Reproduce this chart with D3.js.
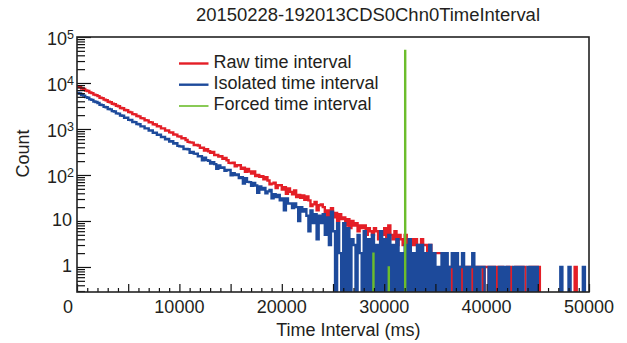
<!DOCTYPE html>
<html>
<head>
<meta charset="utf-8">
<script src="https://cdn.jsdelivr.net/npm/d3@7"></script>
<style>
  body { margin: 0; background: #fff; }
  svg { display: block; }
  text { font-family: "Liberation Sans", Arial, Helvetica, sans-serif; fill: #231f20; }
</style>
</head>
<body>
<svg id="chart" width="627" height="343"></svg>
<script>
// Histogram bin width (ms) shared by the raw and isolated series
const binWidth = 200;

// Raw time interval counts, one value per 200 ms bin (0 .. 50000 ms)
const rawCounts = [
  8420, 8150, 7610, 7390, 6880, 6690, 6210, 6020, 5590, 5440,
  5170, 4790, 4680, 4340, 4230, 3910, 3820, 3530, 3450, 3190,
  3120, 2870, 2820, 2590, 2550, 2340, 2300, 2110, 2080, 1910,
  1880, 1720, 1700, 1550, 1540, 1400, 1390, 1270, 1250, 1150,
  1140, 1030, 1030, 930, 925, 845, 840, 760, 755, 690,
  689, 630, 631, 577, 524, 511, 505, 446, 449, 438,
  388, 393, 340, 364, 328, 303, 317, 270, 274, 252,
  255, 226, 236, 209, 183, 182, 186, 154, 164, 163,
  137, 144, 118, 136, 119, 108, 119, 95, 100, 91,
  94, 81, 89, 76, 63, 65, 68, 52, 60, 60,
  48, 54, 39, 51, 43, 38, 46, 33, 37, 32,
  36, 29, 34, 28, 21, 23, 26, 17, 22, 23,
  20, 13, 17, 11, 19, 12, 15, 10, 14, 11,
  12, 8, 11, 7, 10, 8, 9, 6, 8, 7,
  8, 5, 7, 6, 5, 7, 6, 4, 6, 5,
  7, 4, 8, 5, 4, 6, 3, 5, 4, 3,
  5, 3, 4, 4, 3, 4, 3, 3, 4, 3,
  3, 2, 3, 2, 2, 2, 2, 2, 2, 1,
  1, 1, 1, 0, 1, 0, 1, 0, 1, 1,
  0, 1, 1, 0, 1, 0, 1, 1, 0, 1,
  1, 0, 1, 1, 0, 1, 0, 1, 0, 0,
  1, 1, 0, 0, 1, 0, 1, 1, 1, 0,
  0, 1, 1, 1, 1, 1, 0, 0, 0, 0,
  0, 0, 0, 0, 0, 0, 0, 0, 0, 0,
  0, 0, 0, 1, 0, 0, 0, 0, 0, 0
];

// Isolated time interval counts, same binning
const isolatedCounts = [
  6080, 5920, 5480, 5310, 4920, 4790, 4410, 4300, 3960, 3870,
  3660, 3370, 3300, 3020, 2970, 2720, 2670, 2440, 2400, 2190,
  2160, 1960, 1940, 1760, 1750, 1580, 1570, 1420, 1410, 1280,
  1270, 1140, 1140, 1030, 1030, 920, 925, 830, 830, 745,
  750, 665, 675, 595, 605, 535, 545, 480, 490, 430,
  419, 417, 367, 368, 364, 303, 317, 292, 290, 254,
  256, 209, 239, 210, 204, 177, 190, 172, 137, 161,
  143, 146, 123, 128, 129, 99, 110, 100, 103, 86,
  89, 65, 85, 71, 70, 58, 67, 59, 41, 56,
  48, 52, 40, 44, 47, 31, 38, 33, 37, 28,
  31, 17, 31, 24, 24, 19, 24, 20, 10, 20,
  16, 18, 13, 6, 17, 9, 14, 4, 13, 9,
  14, 5, 12, 3, 16, 6, 0, 9, 2, 0,
  9, 0, 7, 0, 4, 3, 0, 5, 2, 0,
  6, 0, 4, 0, 5, 0, 3, 0, 6, 0,
  4, 0, 5, 0, 3, 0, 4, 0, 2, 0,
  3, 0, 4, 0, 2, 0, 3, 0, 3, 0,
  2, 0, 3, 0, 2, 0, 1, 0, 2, 0,
  2, 0, 1, 2, 0, 2, 0, 1, 2, 0,
  1, 0, 1, 2, 0, 1, 0, 1, 1, 0,
  0, 1, 0, 1, 0, 0, 1, 0, 1, 0,
  1, 0, 0, 1, 0, 1, 0, 1, 0, 0,
  1, 0, 1, 0, 1, 0, 0, 0, 0, 0,
  0, 0, 0, 0, 0, 0, 1, 0, 0, 0,
  1, 0, 0, 0, 0, 0, 0, 1, 0, 0
];

// Forced time interval: only a few non-empty bins
const forcedBinWidth = 100;
const forcedStart = [28900, 30400, 32000];
const forcedCounts = [2, 1, 51000];

const xTickLabels = [0, 10000, 20000, 30000, 40000, 50000];
const yDecades = [1, 10, 100, 1000, 10000, 100000];
const seriesNames = ["Raw time interval", "Isolated time interval", "Forced time interval"];
const seriesColors = ["#e41e26", "#1d4a9b", "#6cbd2c"];
const titleText = "20150228-192013CDS0Chn0TimeInterval";
const xTitle = "Time Interval (ms)";
const yTitle = "Count";

const svg = d3.select("#chart");
const frame = { left: 77, right: 589, top: 37, bottom: 292 };

const x = d3.scaleLinear().domain([0, 50000]).range([frame.left, frame.right]);
const y = d3.scaleLog().domain([0.2857, 1e5]).range([frame.bottom, frame.top]);

// empty bins fall below the frame, like a log-scale histogram
const yPos = v => (v > 0 ? y(v) : frame.bottom + 6);

svg.append("clipPath").attr("id", "plotClip")
  .append("rect")
  .attr("x", frame.left).attr("y", frame.top)
  .attr("width", frame.right - frame.left).attr("height", frame.bottom - frame.top);

const stepLine = d3.line()
  .x(d => x(d[0]))
  .y(d => yPos(d[1]))
  .curve(d3.curveStepAfter);

function histPoints(counts, w) {
  const pts = counts.map((c, i) => [i * w, c]);
  pts.push([counts.length * w, counts[counts.length - 1]]);
  return pts;
}

const plot = svg.append("g").attr("clip-path", "url(#plotClip)");

plot.append("path")
  .attr("d", stepLine(histPoints(rawCounts, binWidth)))
  .attr("fill", "none").attr("stroke", seriesColors[0]).attr("stroke-width", 2.4);

plot.append("path")
  .attr("d", stepLine(histPoints(isolatedCounts, binWidth)))
  .attr("fill", "none").attr("stroke", seriesColors[1]).attr("stroke-width", 2.4);

const forcedPts = [];
forcedStart.forEach((t, i) => {
  forcedPts.push([t, 0], [t, forcedCounts[i]], [t + forcedBinWidth, 0]);
});
plot.append("path")
  .attr("d", stepLine(forcedPts))
  .attr("fill", "none").attr("stroke", seriesColors[2]).attr("stroke-width", 1.4);

// Y axis: decade ticks plus 2..9 minor ticks, pointing into the frame
const yMinor = [];
for (let e = -1; e <= 4; e++) {
  for (let k = 2; k <= 9; k++) {
    const v = k * Math.pow(10, e);
    if (v >= y.domain()[0] && v <= y.domain()[1]) yMinor.push(v);
  }
}
const yAxisMinor = d3.axisLeft(y).tickValues(yMinor).tickSize(-8).tickFormat("");
const yAxisMajor = d3.axisLeft(y).tickValues(yDecades).tickSize(-14).tickFormat("");
[yAxisMinor, yAxisMajor].forEach(ax => {
  const g = svg.append("g").attr("transform", `translate(${frame.left},0)`).call(ax);
  g.select(".domain").remove();
  g.selectAll("line").attr("stroke", "#111").attr("stroke-width", 1.2);
});

// X axis: minor ticks every 1000 ms, larger every 5000 ms
const xMinor = d3.range(0, 50001, 1000).filter(v => v % 5000 !== 0);
const xMajor = d3.range(0, 50001, 5000);
const xAxisMinor = d3.axisBottom(x).tickValues(xMinor).tickSize(-4).tickFormat("");
const xAxisMajor = d3.axisBottom(x).tickValues(xMajor).tickSize(-8).tickFormat("");
[xAxisMinor, xAxisMajor].forEach(ax => {
  const g = svg.append("g").attr("transform", `translate(0,${frame.bottom})`).call(ax);
  g.select(".domain").remove();
  g.selectAll("line").attr("stroke", "#111").attr("stroke-width", 1.2);
});

// Frame
svg.append("rect")
  .attr("x", frame.left).attr("y", frame.top)
  .attr("width", frame.right - frame.left).attr("height", frame.bottom - frame.top)
  .attr("fill", "none").attr("stroke", "#222").attr("stroke-width", 1.6);

// Y tick labels (10^n written with a superscript exponent)
yDecades.forEach(v => {
  const e = Math.round(Math.log10(v));
  const ty = y(v);
  if (e <= 1) {
    svg.append("text").attr("x", 72).attr("y", ty + 5.5)
      .attr("text-anchor", "end").attr("font-size", 18).text(String(v));
  } else {
    const t = svg.append("text").attr("x", 74).attr("y", ty + 8)
      .attr("text-anchor", "end").attr("font-size", 18);
    t.append("tspan").text("10");
    t.append("tspan").attr("dy", -6).attr("font-size", 12.5).text(String(e));
  }
});

// X tick labels
xTickLabels.forEach(v => {
  svg.append("text")
    .attr("x", v === 0 ? x(v) - 9 : x(v))
    .attr("y", 313)
    .attr("text-anchor", "middle").attr("font-size", 18)
    .text(String(v));
});

// Titles
svg.append("text").attr("x", 196).attr("y", 21).attr("font-size", 18)
  .attr("textLength", 344).attr("lengthAdjust", "spacingAndGlyphs").text(titleText);
svg.append("text").attr("x", 420.5).attr("y", 336).attr("text-anchor", "end")
  .attr("font-size", 18).text(xTitle);
svg.append("text").attr("transform", "translate(28.5,153.5) rotate(-90)")
  .attr("text-anchor", "middle").attr("font-size", 18).text(yTitle);

// Legend
const legendBase = [67.5, 88.7, 110];
const legendWidths = [2.4, 2.4, 1.6];
seriesNames.forEach((name, i) => {
  svg.append("line")
    .attr("x1", 179).attr("x2", 208.5)
    .attr("y1", legendBase[i] - 4).attr("y2", legendBase[i] - 4)
    .attr("stroke", seriesColors[i]).attr("stroke-width", legendWidths[i]);
  svg.append("text").attr("x", 213.5).attr("y", legendBase[i])
    .attr("font-size", 18).text(name);
});
</script>
</body>
</html>
